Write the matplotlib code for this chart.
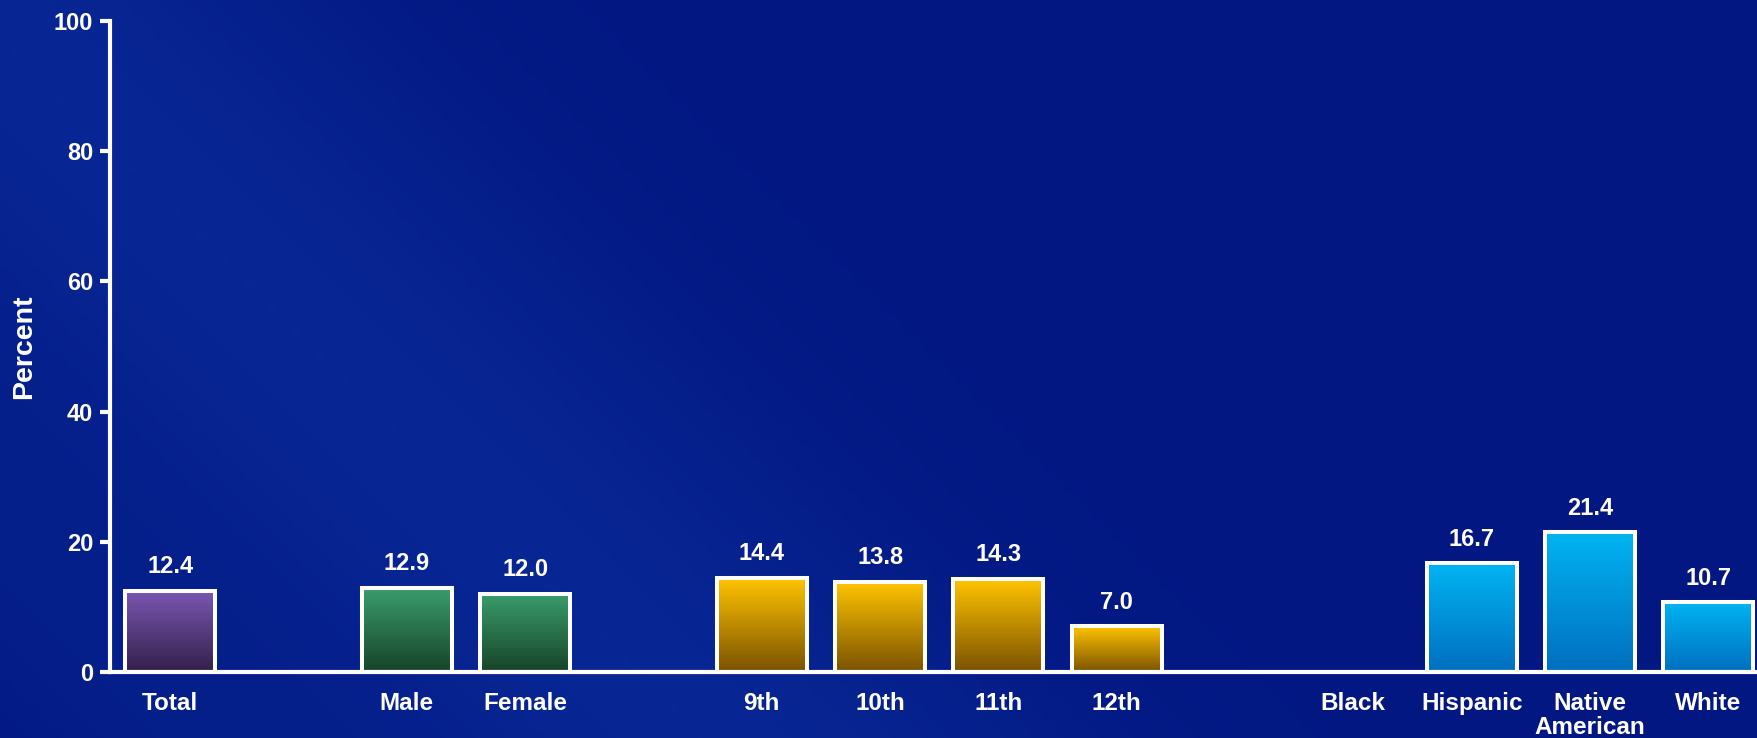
import numpy as np
import matplotlib
matplotlib.use("Agg")
import matplotlib.pyplot as plt
from matplotlib.colors import LinearSegmentedColormap

plt.rcParams["font.family"] = ["Liberation Sans", "DejaVu Sans"]
plt.rcParams["font.weight"] = "bold"

# data
total_labels = ["Total"]
total_values = [12.4]
sex_labels = ["Male", "Female"]
sex_values = [12.9, 12.0]
grade_labels = ["9th", "10th", "11th", "12th"]
grade_values = [14.4, 13.8, 14.3, 7.0]
race_labels = ["Black", "Hispanic", "Native\nAmerican", "White"]
race_values = [np.nan, 16.7, 21.4, 10.7]  # no bar shown for Black

groups = [
    (total_labels, total_values, ("#7a56b2", "#33204a")),
    (sex_labels, sex_values, ("#3a9c6c", "#174429")),
    (grade_labels, grade_values, ("#ffc400", "#7a5200")),
    (race_labels, race_values, ("#00b4f2", "#006fc0")),
]

W, H = 1758, 738
fig = plt.figure(figsize=(W / 100, H / 100), dpi=100)

# background: dark blue with a soft lighter diagonal band
bg = fig.add_axes([0, 0, 1, 1])
yy, xx = np.mgrid[0:1:200j, 0:1:400j]
d = xx * 2.38 + (1 - yy)
band = np.exp(-((d - 0.95) / 0.5) ** 2) * 0.75 + np.exp(-((d - 0.2) / 0.25) ** 2) * 0.25
base = np.array([0x02, 0x17, 0x82]) / 255
light = np.array([0x0a, 0x2c, 0x9a]) / 255
img = base[None, None, :] + (light - base)[None, None, :] * band[..., None]
bg.imshow(np.clip(img, 0, 1), extent=(0, 1, 0, 1), aspect="auto", origin="upper")
bg.axis("off")

ax = fig.add_axes([0.0625, 0.090, 0.9375, 0.881])
ax.patch.set_alpha(0)

width = 0.76
pos = 0
ticks, ticklabels = [], []
for labels, values, (ctop, cbot) in groups:
    cmap = LinearSegmentedColormap.from_list("g", [cbot, ctop])
    grad = np.linspace(1, 0, 100).reshape(-1, 1)
    for lab, v in zip(labels, values):
        ticks.append(pos)
        ticklabels.append(lab)
        if not np.isnan(v):
            ax.imshow(grad, cmap=cmap, vmin=0, vmax=1, aspect="auto",
                      extent=(pos - width / 2, pos + width / 2, 0, v), zorder=2)
            ax.bar(pos, v, width=width, facecolor="none", edgecolor="white",
                   linewidth=2.9, zorder=3)
            ax.annotate(f"{v:.1f}", (pos, v), xytext=(0, 9), textcoords="offset points",
                        ha="center", va="bottom", color="white", fontsize=17,
                        fontweight="bold")
        pos += 1
    pos += 1  # gap between groups

ax.set_xlim(-0.51, 13.42)
ax.set_ylim(0, 100)
ax.set_yticks([0, 20, 40, 60, 80, 100])
ax.set_xticks(ticks)
ax.set_xticklabels(ticklabels, linespacing=1.05)
ax.tick_params(axis="x", length=0, pad=15, labelsize=17.5, colors="white")
ax.tick_params(axis="y", length=7, width=3, pad=5, labelsize=17, colors="white", direction="out")
for lab in ax.get_xticklabels() + ax.get_yticklabels():
    lab.set_fontweight("bold")
for s in ["top", "right"]:
    ax.spines[s].set_visible(False)
for s in ["left", "bottom"]:
    ax.spines[s].set_color("white")
    ax.spines[s].set_linewidth(3)
    ax.spines[s].set_zorder(4)

ax.set_ylabel("Percent", color="white", fontsize=20.5, fontweight="bold")
ax.yaxis.set_label_coords(-0.044, 0.5)

fig.savefig("out.png", dpi=100)
